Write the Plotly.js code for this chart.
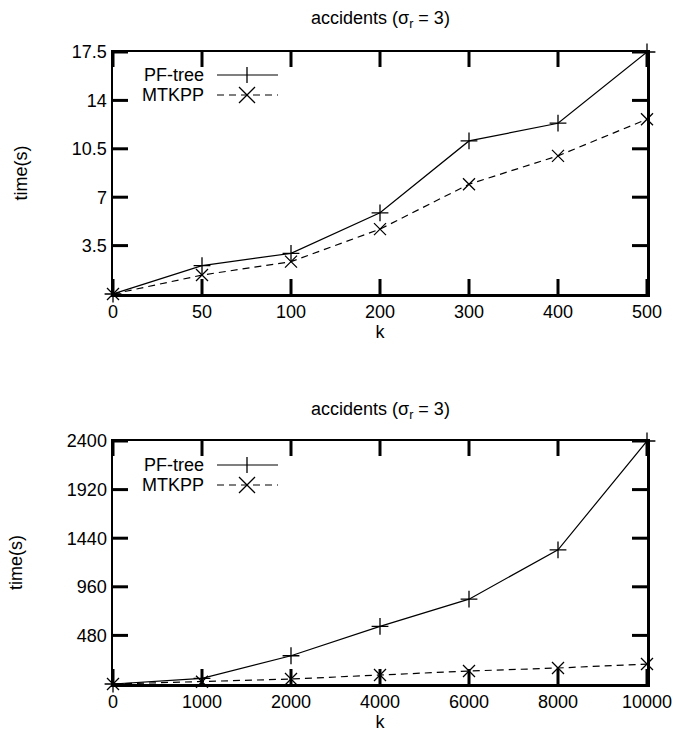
<!DOCTYPE html>
<html>
<head>
<meta charset="utf-8">
<script src="https://cdn.plot.ly/plotly-3.0.1.min.js"></script>
<style>html,body{margin:0;padding:0;background:#fff;}#chart{width:676px;height:742px;}</style>
</head>
<body>
<div id="chart"></div>
<script>
// ---- data ----
const kTop = ["0", "50", "100", "200", "300", "400", "500"];
const pfTreeTop = [0, 2.05, 2.94, 5.87, 11.07, 12.35, 17.5];
const mtkppTop = [0, 1.37, 2.34, 4.69, 7.94, 9.99, 12.64];
const yTicksTop = [3.5, 7, 10.5, 14, 17.5];
const yTickTextTop = ["3.5", "7", "10.5", "14", "17.5"];

const kBottom = ["0", "1000", "2000", "4000", "6000", "8000", "10000"];
const pfTreeBottom = [0, 56, 279, 569, 838, 1325, 2400];
const mtkppBottom = [0, 23, 49, 89, 128, 158, 197];
const yTicksBottom = [480, 960, 1440, 1920, 2400];

const seriesNames = ["PF-tree", "MTKPP"];
const panelTitle = "accidents (σ<sub>r</sub> = 3)";

// ---- layout constants ----
const W = 676, H = 742;
const mL = 113, mR = 29, mT = 52, mB = 58;
const plotH = H - mT - mB;
const FONT = "Liberation Sans, Arial, Helvetica, sans-serif";
const FS = 18;
const TICKLEN = 15;

function px2paperX(px) { return (px - mL) / (W - mL - mR); }
function px2paperY(py) { return (H - mB - py) / plotH; }

const lineSolid = {color: "#000", width: 1.2};
const lineDash = {color: "#000", width: 1.2, dash: "7px,5px"};
const mkPlus = {symbol: "cross-thin-open", size: 12, color: "#000", line: {color: "#000", width: 1.3}};
const mkX = {symbol: "x-thin-open", size: 12, color: "#000", line: {color: "#000", width: 1.3}};

const traces = [
  {x: kTop, y: pfTreeTop, name: seriesNames[0], mode: "lines+markers", line: lineSolid, marker: mkPlus, xaxis: "x", yaxis: "y", showlegend: false, cliponaxis: false},
  {x: kTop, y: mtkppTop, name: seriesNames[1], mode: "lines+markers", line: lineDash, marker: mkX, xaxis: "x", yaxis: "y", showlegend: false, cliponaxis: false},
  {x: kBottom, y: pfTreeBottom, name: seriesNames[0], mode: "lines+markers", line: lineSolid, marker: mkPlus, xaxis: "x2", yaxis: "y2", showlegend: false, cliponaxis: false},
  {x: kBottom, y: mtkppBottom, name: seriesNames[1], mode: "lines+markers", line: lineDash, marker: mkX, xaxis: "x2", yaxis: "y2", showlegend: false, cliponaxis: false}
];

const tickFont = {family: FONT, size: FS, color: "#000"};
function xAxis(anchor) {
  return {
    type: "category", range: [0, 6], anchor: anchor,
    showline: true, linecolor: "#000", linewidth: 2.5, mirror: true,
    ticks: "", showgrid: false, zeroline: false, tickfont: tickFont,
    title: {text: "k", font: {family: FONT, size: FS, color: "#000"}, standoff: 4},
    fixedrange: true
  };
}
function yAxis(anchor, domain, range, tv, tt) {
  return {
    domain: domain, range: range, anchor: anchor,
    showline: true, linecolor: "#000", linewidth: 2.5, mirror: true,
    ticks: "", tickvals: tv, ticktext: tt,
    showgrid: false, zeroline: false, tickfont: tickFont,
    title: {text: "time(s)", font: {family: FONT, size: FS, color: "#000"}, standoff: 40},
    fixedrange: true
  };
}

const panels = [
  {xref: "x", yref: "y", top: 52, bottom: 294, cats: kTop, yticks: yTicksTop},
  {xref: "x2", yref: "y2", top: 441, bottom: 684, cats: kBottom, yticks: yTicksBottom}
];
const topDomain = [px2paperY(294), 1];
const botDomain = [0, px2paperY(441)];

const annotations = [];
const shapes = [];
function tickLine() { return {color: "#000", width: 3}; }

// inward ticks on all four sides (gnuplot style), at the axes' tick values
panels.forEach(p => {
  p.cats.forEach((c, i) => {
    shapes.push({type: "line", xref: p.xref, yref: "paper", x0: i, x1: i,
      y0: px2paperY(p.bottom), y1: px2paperY(p.bottom - TICKLEN), line: tickLine()});
    shapes.push({type: "line", xref: p.xref, yref: "paper", x0: i, x1: i,
      y0: px2paperY(p.top), y1: px2paperY(p.top + TICKLEN), line: tickLine()});
  });
  p.yticks.forEach(v => {
    shapes.push({type: "line", xref: "paper", yref: p.yref, x0: 0, x1: px2paperX(mL + TICKLEN),
      y0: v, y1: v, line: tickLine()});
    shapes.push({type: "line", xref: "paper", yref: p.yref, x0: 1, x1: px2paperX(W - mR - TICKLEN),
      y0: v, y1: v, line: tickLine()});
  });
});

// legend drawn as text + sample (gnuplot style: label left of sample)
const legendRows = [
  {name: seriesNames[0], y: 75, dash: "solid", sym: "plus"},
  {name: seriesNames[1], y: 95, dash: "dash", sym: "x"},
  {name: seriesNames[0], y: 465, dash: "solid", sym: "plus"},
  {name: seriesNames[1], y: 485, dash: "dash", sym: "x"}
];
const sx0 = 217, sx1 = 278, smid = 247, r = 8;
legendRows.forEach(row => {
  annotations.push({xref: "paper", yref: "paper", x: px2paperX(206), y: px2paperY(row.y),
    xanchor: "right", yanchor: "middle", text: row.name, showarrow: false,
    font: {family: FONT, size: FS, color: "#000"}});
  shapes.push({type: "line", xref: "paper", yref: "paper",
    x0: px2paperX(sx0), x1: px2paperX(sx1), y0: px2paperY(row.y), y1: px2paperY(row.y),
    line: {color: "#000", width: 1.2, dash: row.dash === "dash" ? "7px,5px" : "solid"}});
  if (row.sym === "plus") {
    shapes.push({type: "line", xref: "paper", yref: "paper",
      x0: px2paperX(smid), x1: px2paperX(smid), y0: px2paperY(row.y - r), y1: px2paperY(row.y + r),
      line: {color: "#000", width: 1.3}});
  } else {
    shapes.push({type: "line", xref: "paper", yref: "paper",
      x0: px2paperX(smid - r), x1: px2paperX(smid + r), y0: px2paperY(row.y - r), y1: px2paperY(row.y + r),
      line: {color: "#000", width: 1.3}});
    shapes.push({type: "line", xref: "paper", yref: "paper",
      x0: px2paperX(smid - r), x1: px2paperX(smid + r), y0: px2paperY(row.y + r), y1: px2paperY(row.y - r),
      line: {color: "#000", width: 1.3}});
  }
});

// panel titles
[20, 410].forEach(py => {
  annotations.push({xref: "paper", yref: "paper", x: 0.5, y: px2paperY(py),
    xanchor: "center", yanchor: "middle", text: panelTitle, showarrow: false,
    font: {family: FONT, size: FS, color: "#000"}});
});

const layout = {
  width: W, height: H,
  margin: {l: mL, r: mR, t: mT, b: mB, pad: 0},
  paper_bgcolor: "#fff", plot_bgcolor: "#fff",
  showlegend: false,
  xaxis: xAxis("y"),
  yaxis: yAxis("x", topDomain, [0, 17.5], yTicksTop, yTickTextTop),
  xaxis2: xAxis("y2"),
  yaxis2: yAxis("x2", botDomain, [0, 2400], yTicksBottom, yTicksBottom.map(String)),
  annotations: annotations,
  shapes: shapes
};

Plotly.newPlot("chart", traces, layout, {staticPlot: true, displayModeBar: false});
</script>
</body>
</html>
